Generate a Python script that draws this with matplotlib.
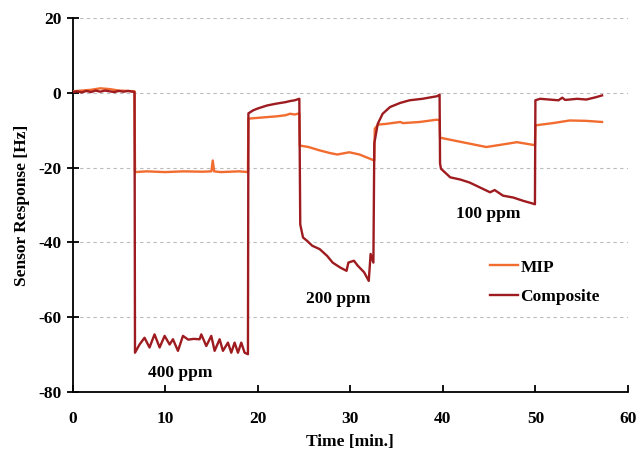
import matplotlib
matplotlib.use("Agg")
import matplotlib.pyplot as plt

# ---- data ----
comp_t = [0, 0.5, 1.0, 1.5, 2.0, 2.5, 3.0, 3.5, 4.0, 4.5, 5.0, 5.5, 6.0, 6.5, 6.7,
          6.75, 7.24, 7.78, 8.32, 8.86, 9.41, 9.95, 10.49, 10.85, 11.39, 11.93, 12.5, 13.1, 13.73,
          13.91, 14.45, 14.99, 15.35, 15.89, 16.25, 16.79, 17.15, 17.51, 17.87, 18.23, 18.59, 18.95,
          19.0, 19.5, 20.0, 21.0, 22.0, 23.0, 23.5, 24.0, 24.5,
          24.6, 24.9, 25.3, 25.9, 26.7, 27.5, 28.1, 28.9, 29.6, 29.8, 30.4, 30.8, 31.5, 32.0, 32.2, 32.5,
          32.6, 32.97, 33.5, 34.3, 35.4, 36.4, 37.8, 39.4, 39.65,
          39.7, 39.8, 40.8, 41.9, 42.9, 44.0, 45.1, 45.6, 46.5, 47.6, 48.7, 49.7, 49.95,
          50.0, 50.5, 51.5, 52.5, 52.9, 53.2, 53.7, 54.5, 55.5, 56.5, 57.2]
comp_v = [0.2, 0.4, 0.1, 0.5, 0.2, 0.6, 0.3, 0.6, 0.4, 0.2, 0.5, 0.3, 0.5, 0.3, 0.2,
          -69.5, -67.3, -65.5, -68.1, -64.6, -68.1, -65.0, -67.3, -65.9, -69.0, -65.0, -66.0, -65.8, -65.9,
          -64.6, -67.7, -65.0, -69.0, -65.9, -69.0, -66.8, -69.5, -66.8, -69.5, -66.8, -69.5, -69.9,
          -5.5, -4.7, -4.2, -3.4, -2.9, -2.5, -2.2, -2.0, -1.6,
          -35.2, -38.7, -39.5, -40.9, -41.8, -43.6, -45.4, -46.7, -47.6, -45.4, -44.9, -46.2, -48.0, -50.3, -43.1, -45.4,
          -13.5, -8.3, -5.6, -3.8, -2.7, -2.0, -1.6, -0.9, -0.5,
          -18.9, -20.3, -22.6, -23.2, -24.0, -25.3, -26.6, -26.0, -27.5, -28.0, -28.9, -29.6, -29.8,
          -2.0, -1.6, -1.8, -2.0, -1.3, -1.9, -1.8, -1.6, -1.8, -1.2, -0.7]

mip_t = [0, 1.0, 2.0, 2.5, 3.0, 3.5, 4.0, 5.0, 6.0, 6.7,
         6.75, 8, 10, 12, 14, 15.0, 15.15, 15.3, 16, 18, 18.95,
         19.0, 20, 21, 22, 23, 23.5, 24.0, 24.5,
         24.55, 25.5, 26.7, 27.8, 28.6, 29.9, 31.0, 32.2, 32.6,
         32.65, 33.0, 33.9, 35.4, 35.7, 37.5, 39.3, 39.65,
         39.7, 41.1, 42.9, 44.7, 46.5, 48.0, 49.7, 49.95,
         50.0, 51.9, 53.7, 55.5, 57.2]
mip_v = [0.4, 0.6, 0.8, 1.0, 1.2, 1.1, 1.0, 0.6, 0.5, 0.4,
         -21.2, -21.0, -21.2, -21.0, -21.1, -21.0, -18.1, -21.0, -21.2, -21.0, -21.2,
         -6.9, -6.7, -6.5, -6.3, -6.0, -5.6, -5.8, -5.5,
         -14.1, -14.5, -15.4, -16.1, -16.5, -15.9, -16.5, -17.7, -18.1,
         -9.6, -8.5, -8.3, -7.8, -8.1, -7.8, -7.2, -7.3,
         -12.0, -12.7, -13.6, -14.5, -13.8, -13.2, -13.9, -14.0,
         -8.7, -8.1, -7.4, -7.5, -7.8]

labels = ["400 ppm", "200 ppm", "100 ppm"]
label_t = [11.6, 28.7, 44.9]
label_v = [-74.9, -55.1, -32.4]

x_ticks = [0, 10, 20, 30, 40, 50, 60]
y_ticks = [-80, -60, -40, -20, 0, 20]

# ---- style ----
plt.rcParams['font.family'] = ['Liberation Serif', 'DejaVu Serif']
plt.rcParams['font.weight'] = 'bold'
plt.rcParams['axes.unicode_minus'] = False
FS = 12.5

fig = plt.figure(figsize=(6.36, 4.55), dpi=100)
ax = fig.add_axes([0.114, 0.1385, 0.8734, 0.8219])

ax.plot(mip_t, mip_v, color='#F26B2F', lw=1.7, label='MIP', zorder=3)
ax.plot(comp_t, comp_v, color='#9E1B20', lw=1.7, label='Composite', zorder=4)

ax.set_xlim(0, 60)
ax.set_ylim(-80, 20)
ax.set_xticks(x_ticks)
ax.set_yticks(y_ticks)
ax.yaxis.grid(True, color='#BBBBBB', linestyle=(0, (3, 3)), lw=0.8)
ax.set_axisbelow(True)

for s in ['top', 'right']:
    ax.spines[s].set_visible(False)
for s in ['left', 'bottom']:
    ax.spines[s].set_linewidth(1.3)
    ax.spines[s].set_color('black')

ax.tick_params(axis='y', direction='inout', length=8, width=1.3, labelsize=FS, pad=4)
ax.tick_params(axis='x', direction='in', length=5, width=1.3, labelsize=FS, pad=14)
for lab in ax.get_xticklabels() + ax.get_yticklabels():
    lab.set_fontweight('bold')

ax.set_xlabel('Time [min.]', fontsize=FS, fontweight='bold', labelpad=5)
ax.set_ylabel('Sensor Response [Hz]', fontsize=FS, fontweight='bold', labelpad=6)

for lab, t, v in zip(labels, label_t, label_v):
    ax.text(t, v, lab, fontsize=FS, fontweight='bold', ha='center', va='center')

leg = ax.legend(loc='center left', bbox_to_anchor=(0.752, 0.294), frameon=False,
                fontsize=FS, handlelength=1.6, handletextpad=0.15, labelspacing=0.75,
                borderpad=0, borderaxespad=0)
for t in leg.get_texts():
    t.set_fontweight('bold')

fig.savefig('out.png', dpi=100)
